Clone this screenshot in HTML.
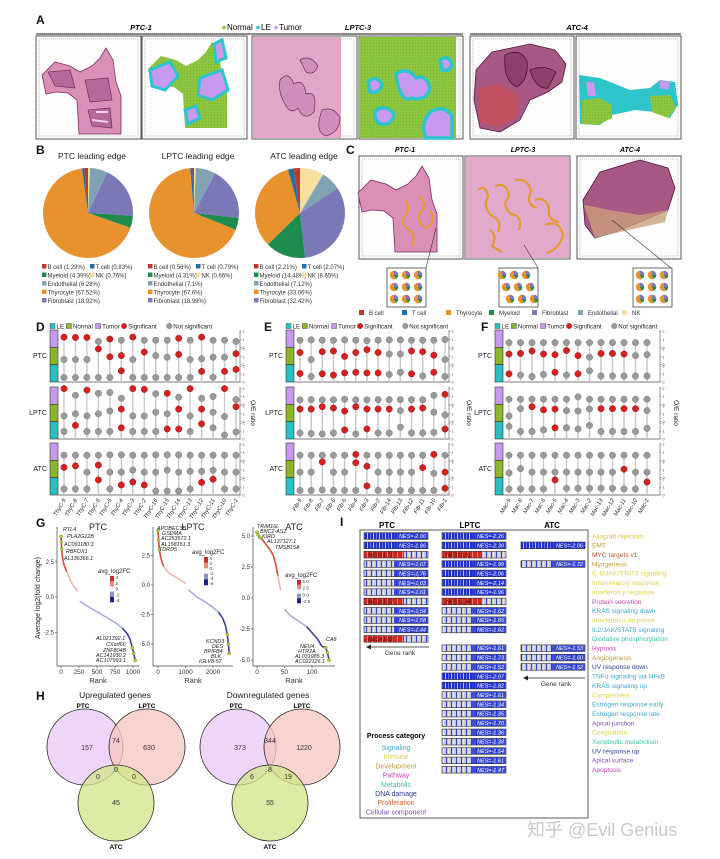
<!DOCTYPE html>
<html><head><meta charset="utf-8"><style>
html,body{margin:0;padding:0;background:#fff;}
svg{display:block;font-family:"Liberation Sans","Noto Sans CJK SC",sans-serif;}
</style></head><body>
<svg id="fig" width="720" height="859" viewBox="0 0 720 859" xmlns="http://www.w3.org/2000/svg">
<defs>
<pattern id="blueStripe" width="6" height="8" patternUnits="userSpaceOnUse"><rect width="6" height="8" fill="#1c2fd1"/><rect x="1" width="0.8" height="8" fill="#e8ecff"/><rect x="4" width="0.6" height="8" fill="#9aa6ff"/></pattern>
<pattern id="greyStripe" width="5" height="8" patternUnits="userSpaceOnUse"><rect width="5" height="8" fill="#c9c9d6"/><rect x="1" width="1" height="8" fill="#3344cc"/><rect x="3.5" width="0.6" height="8" fill="#fff"/></pattern>
<pattern id="redStripe" width="5" height="8" patternUnits="userSpaceOnUse"><rect width="5" height="8" fill="#d22a22"/><rect x="2" width="0.7" height="8" fill="#f2a0a0"/></pattern>
<pattern id="greenDots" width="3" height="3" patternUnits="userSpaceOnUse"><rect width="3" height="3" fill="#8cc63e"/><circle cx="1.5" cy="1.5" r="0.6" fill="#7db22f"/></pattern>
</defs>
</svg>
<script>
// ---------- DATA ----------
const pieCells=['B cell','T cell','Myeloid','NK','Endothelial','Thyrocyte','Fibroblast'];
const pieColors=['#c0392b','#1f6fa8','#1e8c4e','#f7dfa0','#7fa3b0','#e8922e','#7b78b8'];
const piePTC=[1.29,0.83,4.39,0.76,6.28,67.52,18.92];
const pieLPTC=[0.56,0.79,4.31,0.66,7.1,67.6,18.99];
const pieATC=[2.21,2.07,14.48,8.65,7.12,33.06,32.42];
const pieOrder=[3,4,6,2,5,1,0];

const catsD=['ThyC-9','ThyC-8','ThyC-7','ThyC-6','ThyC-5','ThyC-4','ThyC-3','ThyC-2','ThyC-16','ThyC-15','ThyC-14','ThyC-13','ThyC-12','ThyC-11','ThyC-10','ThyC-1'];
const catsE=['Fib-9','Fib-8','Fib-7','Fib-6','Fib-5','Fib-4','Fib-3','Fib-2','Fib-14','Fib-13','Fib-12','Fib-11','Fib-10','Fib-1'];
const catsF=['Mac-9','Mac-8','Mac-7','Mac-6','Mac-5','Mac-4','Mac-3','Mac-2','Mac-13','Mac-12','Mac-11','Mac-10','Mac-1'];
// O/E values per row [Tumor, Normal, LE], and significance
const dPTC_T=[1.3,1.25,1.25,0.75,1.05,0.9,1.3,0.9,0.9,0.9,1.15,0.9,1.3,0.9,0.9,0.75];
const dPTC_Ts=[1,1,1,0,1,0,1,0,0,0,1,0,1,0,0,0];
const dPTC_N=[0.65,0.65,0.65,2.0,1.0,1.15,0.65,1.6,1.15,0.95,1.3,0.65,0.75,0.95,0.95,1.4];
const dPTC_Ns=[0,0,0,1,1,1,0,1,0,0,1,0,0,0,0,1];
const dPTC_L=[0.58,0.58,0.58,0.58,0.58,1.42,0.58,0.58,0.58,0.58,0.58,0.58,1.35,0.6,1.35,1.6];
const dPTC_Ls=[0,0,0,0,0,1,0,0,0,0,0,0,1,0,1,1];
const dLPTC_T=[2.0,1.15,1.8,1.4,1.5,0.77,2.0,1.9,1.35,1.4,0.9,2.0,0.77,1.0,2.0,0.6];
const dLPTC_Ts=[1,0,1,0,0,0,1,1,0,1,0,1,0,0,1,0];
const dLPTC_N=[0.73,1.0,0.73,1.0,1.35,1.6,0.73,0.73,1.2,1.0,1.6,0.73,1.6,1.2,0.65,1.9];
const dLPTC_Ns=[0,0,0,0,0,1,0,0,0,0,1,0,1,0,0,1];
const dLPTC_L=[0.96,1.73,0.96,0.96,0.96,1.42,0.96,0.96,0.96,1.27,1.27,0.96,1.92,1.42,0.5,0.9];
const dLPTC_Ls=[0,1,0,0,0,1,0,0,0,1,1,0,1,0,0,0];
const dATC_T=[0.65,0.65,0.65,0.65,0.7,0.7,0.65,0.65,0.7,0.7,0.7,0.65,0.65,0.65,0.65,0.65];
const dATC_Ts=[0,0,0,0,0,0,0,0,0,0,0,0,0,0,0,0];
const dATC_N=[1.3,1.5,0.7,1.6,0.7,0.7,0.95,0.7,0.7,0.95,0.7,0.8,0.8,0.95,0.7,0.7];
const dATC_Ns=[1,1,0,1,0,0,0,0,0,0,0,0,0,0,0,0];
const dATC_L=[0.77,0.77,0.77,1.92,0.77,1.27,1.65,1.27,0.5,0.5,0.5,0.77,1.6,2.0,0.77,0.77];
const dATC_Ls=[0,0,0,1,0,1,1,1,0,0,0,0,1,1,0,0];

const ePTC_T=[0.9,0.95,0.9,0.9,0.95,0.9,0.85,0.9,0.95,0.95,0.9,0.9,0.9,1.0];
const ePTC_Ts=[0,0,0,0,0,0,0,0,0,0,0,0,0,0];
const ePTC_N=[1.54,0.65,1.65,1.73,1.05,1.54,1.9,1.54,1.35,1.35,1.73,1.65,1.2,0.65];
const ePTC_Ns=[1,0,1,1,1,1,1,1,0,0,1,1,1,0];
const ePTC_L=[1.08,0.7,1.04,0.88,1.15,1.23,1.15,1.15,0.96,1.23,1.04,0.77,1.23,0.7];
const ePTC_Ls=[1,0,1,1,1,1,1,1,0,0,1,0,1,0];
const eLPTC_T=[0.58,0.6,0.58,0.58,0.65,0.58,0.58,0.6,0.6,0.6,0.6,0.58,1.15,1.27];
const eLPTC_Ts=[0,0,0,0,0,0,0,0,0,0,0,0,0,1];
const eLPTC_N=[1.6,1.6,1.9,1.73,1.35,1.9,1.6,1.6,1.6,1.4,1.6,1.73,1.2,0.85];
const eLPTC_Ns=[1,1,1,1,1,1,1,1,1,0,1,1,0,0];
const eLPTC_L=[0.77,0.7,0.65,0.77,1.15,0.65,1.27,0.77,0.77,1.5,0.77,0.77,0.85,1.27];
const eLPTC_Ls=[0,0,0,0,1,0,1,0,0,0,0,0,0,1];
const eATC_T=[0.65,0.65,0.65,0.65,0.65,0.75,0.65,0.65,0.65,0.65,0.65,0.65,0.75,0.65];
const eATC_Ts=[0,0,0,0,0,1,0,0,0,0,0,0,1,0];
const eATC_N=[0.7,0.7,2.0,0.7,0.7,1.9,1.45,0.7,0.7,0.7,0.7,1.27,0.55,0.7];
const eATC_Ns=[0,0,1,0,0,1,1,0,0,0,0,1,0,1];
const eATC_L=[0.58,0.58,0.65,0.58,0.58,0.58,1.15,0.58,0.58,0.58,0.58,0.58,0.58,0.85];
const eATC_Ls=[0,0,0,0,0,0,1,0,0,0,0,0,0,1];

const fPTC_T=[0.6,0.6,0.6,0.6,0.6,0.6,0.6,0.6,0.6,0.6,0.6,0.6,0.6];
const fPTC_Ts=[0,0,0,0,0,0,0,0,0,0,0,0,0];
const fPTC_N=[1.35,1.42,1.73,1.35,1.27,1.8,1.15,0.96,1.42,1.42,1.35,1.15,1.27];
const fPTC_Ns=[1,1,1,1,1,1,1,0,1,1,1,0,0];
const fPTC_L=[1.04,0.88,0.7,0.96,1.23,0.88,1.04,1.42,0.77,0.77,0.77,0.77,0.77];
const fPTC_Ls=[1,0,0,0,1,0,1,0,0,0,0,0,0];
const fLPTC_T=[0.65,0.65,0.65,0.65,0.65,0.65,0.95,0.65,0.65,0.65,0.65,0.65,0.65];
const fLPTC_Ts=[0,0,0,0,0,0,0,0,0,0,0,0,0];
const fLPTC_N=[0.73,1.65,1.9,1.5,1.6,1.4,1.35,1.6,1.65,1.65,1.65,1.65,1.4];
const fLPTC_Ns=[0,0,1,1,1,0,0,0,1,1,1,1,0];
const fLPTC_L=[1.6,0.96,0.96,1.15,1.42,1.42,1.27,1.73,0.96,0.96,0.96,0.96,1.35];
const fLPTC_Ls=[0,0,0,0,1,0,0,0,0,0,0,0,0];
const fATC_T=[0.65,0.65,0.65,0.65,0.65,0.65,0.65,0.65,0.65,0.65,0.65,0.65,0.65];
const fATC_Ts=[0,0,0,0,0,0,0,0,0,0,0,0,0];
const fATC_N=[0.6,1.15,0.7,0.7,0.7,0.7,0.7,0.7,0.7,0.7,1.08,0.7,0.7];
const fATC_Ns=[0,0,0,0,0,0,0,0,0,0,1,0,0];
const fATC_L=[0.77,0.77,0.77,0.77,1.92,0.85,0.85,0.85,0.85,0.85,0.77,0.77,1.65];
const fATC_Ls=[0,0,0,0,1,0,0,0,0,0,0,0,1];

// G: rank / log2FC samples
const gPTCrank=[0,5,10,20,40,80,120,160,200,230,260,350,450,550,650,750,850,920,960,990,1010,1030];
const gPTCfc=[4.3,3.9,3.4,2.8,2.3,1.8,1.3,0.9,0.6,0.4,-0.3,-0.6,-0.9,-1.2,-1.5,-1.8,-2.2,-2.6,-3.0,-3.6,-4.0,-4.5];
const gLPTCrank=[0,20,50,100,200,400,700,900,1000,1100,1400,1700,2000,2200,2350,2450,2520,2560,2590];
const gLPTCfc=[4.6,3.8,3.0,2.3,1.6,1.0,0.6,0.3,0.1,-0.4,-1.0,-1.4,-1.9,-2.3,-2.8,-3.4,-4.2,-5.0,-5.8];
const gATCrank=[0,2,5,10,15,20,25,30,33,35,38,40,43,50,60,70,80,90,100,110,118,125,128,131];
const gATCfc=[5.3,5.1,4.9,4.7,4.4,4.1,3.8,3.4,2.9,2.5,1.8,1.3,0.6,-0.9,-1.4,-1.7,-2.0,-2.3,-2.8,-3.3,-3.9,-4.0,-4.4,-5.0];

// H: venn counts
const vennUp=[157,74,630,0,0,0,45];
const vennDown=[373,344,1220,6,8,19,55];

// I: GSEA
const hallmarks=['Allograft rejection','EMT','MYC targets v1','Myogenesis','IL-6/JAK/STAT3 signaling','Inflammatory response','Interferon γ response','Protein secretion','KRAS signaling down','Interferon α response','IL2/JAK/STAT5 signaling','Oxidative phosphorylation','Hypoxia','Angiogenesis','UV response down','TNFα signaling via NFκB','KRAS signaling up','Complement','Estrogen response early','Estrogen response late','Apical junction','Coagulation','Xenobiotic metabolism','UV response up','Apical surface','Apoptosis'];
const hallColors=['#d9c24a','#c59a3a','#b8502e','#c59a3a','#d9d34a','#d9d34a','#d9d34a','#c445b8','#3aa7c9','#d9d34a','#3aa7c9','#3cc2a8','#c445b8','#c59a3a','#2b3e8f','#3aa7c9','#3aa7c9','#d9d34a','#3aa7c9','#3aa7c9','#7b4fb8','#d9d34a','#3cc2a8','#2b3e8f','#7b4fb8','#c445b8'];
const nesPTC=[-2.00,-1.86,1.71,-1.67,-1.76,-1.63,-1.61,1.67,-1.54,-1.58,-1.44,1.62,null,null,null,null,null,null,null,null,null,null,null,null,null,null];
const nesLPTC=[-2.26,-2.30,1.81,-1.99,-2.06,-2.14,-1.96,1.48,-1.62,-1.65,-1.62,null,-1.61,-1.73,-1.52,-2.07,-1.82,-1.61,-1.34,-1.35,-1.70,-1.36,-1.38,-1.54,-1.61,-1.47];
const nesATC=[null,-2.06,null,-1.72,null,null,null,null,null,null,null,null,-1.53,-1.60,-1.52,null,null,null,null,null,null,null,null,null,null,null];
const procCats=['Signaling','Immune','Development','Pathway','Metabolic','DNA damage','Proliferation','Cellular component'];
const procColors=['#3aa7c9','#d9d34a','#c59a3a','#c445b8','#3cc2a8','#2b3e8f','#d0652e','#7b4fb8'];

// ---------- HELPERS ----------
const NS='http://www.w3.org/2000/svg';
const svg=document.getElementById('fig');
function mk(tag,at,parent){const e=document.createElementNS(NS,tag);for(const k in at)e.setAttribute(k,at[k]);(parent||svg).appendChild(e);return e;}
function tx(x,y,s,at,parent){const e=mk('text',Object.assign({x:x,y:y},at||{}),parent);e.textContent=s;return e;}
function grp(name){const g=mk('g',{});return g;}
let el;

// panel letters
[['A',36,24],['B',36,154],['C',346,154],['D',36,331],['E',264,331],['F',481,331],['G',36,527],['H',36,700],['I',340,526]].forEach(function(p){
  el=tx(p[1],p[2],p[0],{'font-size':12,'font-weight':'bold',fill:'#111'});
  
  
});

// ---------- PANEL A ----------
const gA=grp('panel-a-spatial');
function boxFrame(x,y,w,h,g,name){
  el=mk('rect',{x:x,y:y,width:w,height:h,fill:'#fdfdfd',stroke:'#555','stroke-width':1},g);
  
  
  mk('rect',{x:x+3,y:y+3,width:w-6,height:h-6,fill:'none',stroke:'#ddd','stroke-width':2,'stroke-dasharray':'1 1'},g);
}
function ptcShape(dx,dy){return 'M'+(42+dx)+','+(75+dy)+' L'+(55+dx)+','+(62+dy)+' L'+(70+dx)+','+(66+dy)+' L'+(80+dx)+','+(72+dy)+' L'+(92+dx)+','+(66+dy)+' L'+(100+dx)+','+(58+dy)+' L'+(106+dx)+','+(48+dy)+' L'+(113+dx)+','+(60+dy)+' L'+(116+dx)+','+(82+dy)+' L'+(121+dx)+','+(96+dy)+' L'+(121+dx)+','+(134+dy)+' L'+(79+dx)+','+(134+dy)+' L'+(77+dx)+','+(100+dy)+' L'+(68+dx)+','+(93+dy)+' L'+(56+dx)+','+(92+dy)+' L'+(46+dx)+','+(94+dy)+' Z';}
// titles
[['PTC-1',141],['LPTC-3',358],['ATC-4',577]].forEach(function(t){
  el=tx(t[1],30,t[0],{'font-size':7.5,'font-weight':'bold','font-style':'italic','text-anchor':'middle'},gA);
  
  
});
mk('line',{x1:36,y1:34,x2:463,y2:34,stroke:'#666','stroke-width':1.5},gA);
mk('line',{x1:470,y1:34,x2:681,y2:34,stroke:'#666','stroke-width':1.5},gA);
[['Normal','#8cc63e',224],['LE','#2ec4cc',258],['Tumor','#c79af0',276]].forEach(function(l){
  el=mk('circle',{cx:l[2],cy:27.5,r:1.8,fill:l[1]},gA);
  
  
  el=tx(l[2]+3,30,l[0],{'font-size':8},gA);
  
  
});
// PTC-1 HE
boxFrame(36,36,105,103,gA,'ptc1-he-image');
el=mk('path',{d:ptcShape(0,0),fill:'#d98fb8',stroke:'#7c2f60','stroke-width':0.8},gA);

mk('path',{d:'M48,72 L70,70 L75,88 L55,86 Z M85,80 L108,78 L112,100 L90,102 Z M88,110 L110,108 L112,128 L92,126 Z',fill:'#b5689a',stroke:'#5e2048','stroke-width':0.6},gA);
mk('path',{d:'M96,112 l12,0 M92,120 l16,2',stroke:'#f2d6e6','stroke-width':2},gA);
// PTC-1 spots
boxFrame(142,36,105,103,gA,'ptc1-spot-map');
el=mk('path',{d:ptcShape(106,-6),fill:'url(#greenDots)'},gA);

mk('path',{d:'M150,70 L170,62 L178,76 L165,90 L152,86 Z M200,78 L222,70 L228,90 L212,100 L198,95 Z M214,44 L222,40 L226,58 L216,62 Z M185,110 L196,106 L200,118 L188,124 Z',fill:'#c79af0',stroke:'#2ec4cc','stroke-width':3},gA);
// LPTC-3 HE
boxFrame(252,36,105,103,gA,'lptc3-he-image');
el=mk('rect',{x:253,y:37,width:88,height:101,fill:'#e1a7c9'},gA);

mk('path',{d:'M280,80 q8,-10 14,4 q10,-6 12,10 q12,-4 8,18 q-10,10 -16,-4 q-8,8 -14,-6 q-6,-10 -4,-22 Z M300,60 q10,-6 18,6 q-4,10 -12,6 Z M322,110 q12,-4 18,8 q0,14 -14,18 q-12,-4 -4,-26 Z',fill:'#cf8fbb',stroke:'#6b2b58','stroke-width':0.7},gA);
// LPTC-3 spots
boxFrame(359,36,104,103,gA,'lptc3-spot-map');
el=mk('rect',{x:360,y:37,width:96,height:101,fill:'url(#greenDots)'},gA);

mk('path',{d:'M368,82 q8,-8 14,2 q-2,10 -12,8 Z M376,110 q10,-6 18,4 q-2,12 -14,10 q-8,-6 -4,-14 Z M396,74 q12,-8 20,4 q10,-4 14,10 q-4,14 -18,10 q-12,6 -16,-24 Z M430,112 q14,-8 22,4 l0,22 l-26,0 q-6,-14 4,-26 Z M440,60 q8,-6 12,4 q-2,8 -10,6 Z',fill:'#c79af0',stroke:'#2ec4cc','stroke-width':3.5},gA);
// ATC-4 HE
boxFrame(470,36,104,103,gA,'atc4-he-image');
el=mk('path',{d:'M476,70 L492,52 L530,44 L555,50 L566,64 L562,82 L548,92 L530,100 L520,120 L500,132 L480,128 L474,100 Z',fill:'#a85884',stroke:'#4f1838','stroke-width':0.8},gA);

mk('path',{d:'M478,88 L500,84 L520,96 L516,118 L498,128 L480,122 Z',fill:'#c8505a',opacity:0.8},gA);
mk('path',{d:'M505,55 q15,-8 22,6 q2,18 -10,26 q-14,-6 -12,-32 Z M530,70 q14,-6 26,2 l-8,16 q-12,2 -18,-18 Z',fill:'#8e3f6c',stroke:'#3a0d28','stroke-width':0.7},gA);
// ATC-4 spots
boxFrame(576,36,105,103,gA,'atc4-spot-map');
el=mk('path',{d:'M579,75 L600,78 L630,90 L650,88 L660,80 L675,82 L678,105 L670,118 L655,112 L635,110 L612,115 L600,125 L580,124 Z',fill:'#2ec4cc'},gA);

mk('path',{d:'M582,100 L600,98 L612,105 L612,118 L598,125 L582,124 Z M650,96 L670,95 L676,108 L668,118 L652,112 Z',fill:'url(#greenDots)'},gA);
mk('path',{d:'M586,82 l8,0 l2,14 l-8,0 Z M660,80 l10,2 l-2,8 l-8,-2 Z',fill:'#c79af0'},gA);

// ---------- PANEL B ----------
const gB=grp('panel-b-pies');
const pies=[['PTC leading edge',piePTC,88,'ptc'],['LPTC leading edge',pieLPTC,194,'lptc'],['ATC leading edge',pieATC,300,'atc']];
pies.forEach(function(p){
  const cx=p[2],cy=213,r=45;
  el=tx(cx+4,159,p[0],{'font-size':8.5,'text-anchor':'middle',fill:'#222'},gB);
  
  const vals=p[1];const tot=vals.reduce(function(a,b){return a+b;},0);
  let a0=-Math.PI/2;
  pieOrder.forEach(function(i){
    const a1=a0+vals[i]/tot*2*Math.PI;
    const large=(a1-a0)>Math.PI?1:0;
    const d='M'+cx+','+cy+' L'+(cx+r*Math.cos(a0))+','+(cy+r*Math.sin(a0))+' A'+r+','+r+' 0 '+large+' 1 '+(cx+r*Math.cos(a1))+','+(cy+r*Math.sin(a1))+' Z';
    el=mk('path',{d:d,fill:pieColors[i]},gB);
    
    
    a0=a1;
  });
  // legend
  const lx=cx-46;
  const rowsL=[[[0,0],[1,48]],[[2,0],[3,48]],[[4,0]],[[5,0]],[[6,0]]];
  rowsL.forEach(function(row,ri){
    row.forEach(function(it){
      const i=it[0],x=lx+it[1],y=269+ri*8.5;
      el=mk('rect',{x:x,y:y-5,width:4.5,height:4.5,fill:pieColors[i]},gB);
      
      el=tx(x+5.5,y,pieCells[i]+' ('+vals[i]+'%)',{'font-size':6,fill:'#333'},gB);
      
    });
  });
});

// ---------- PANEL C ----------
const gC=grp('panel-c-deconvolution');
[['PTC-1',405],['LPTC-3',523],['ATC-4',630]].forEach(function(t){
  el=tx(t[1],152,t[0],{'font-size':7,'font-weight':'bold','font-style':'italic','text-anchor':'middle'},gC);
  
});
boxFrame(359,156,104,103,gC,'c-ptc1-image');
el=mk('path',{d:ptcShape(320,124).replace(/M([\d.]+),([\d.]+)/,'M$1,$2'),fill:'#d98fb8',stroke:'#7c2f60','stroke-width':0.8,transform:'translate(-4,-6) scale(1)'},gC);

mk('path',{d:'M405,200 q6,8 0,16 q-6,8 4,14 q8,6 2,16 M418,196 q10,6 4,14 q-8,10 4,18 M430,210 q6,10 -2,18',fill:'none',stroke:'#e39a30','stroke-width':2},gC);
boxFrame(465,156,105,103,gC,'c-lptc3-image');
el=mk('rect',{x:466,y:157,width:103,height:101,fill:'#e3a9cb'},gC);

mk('path',{d:'M478,190 q8,-6 10,6 q-6,12 4,20 q10,4 6,16 M495,186 q12,-4 14,10 q-8,10 2,18 q12,2 8,16 M515,180 q14,-2 16,12 q-6,12 6,16 M535,200 q10,-4 14,8 q-2,12 10,14 M545,225 q14,-6 18,10 q-4,14 -16,18 M490,230 q8,6 2,16 l10,6',fill:'none',stroke:'#e39a30','stroke-width':2.2},gC);
boxFrame(577,156,104,103,gC,'c-atc4-image');
el=mk('path',{d:'M583,200 L600,172 L640,160 L668,168 L675,188 L668,210 L640,222 L615,232 L595,238 L585,225 Z',fill:'#a85884',stroke:'#4f1838','stroke-width':0.8},gC);

mk('path',{d:'M584,205 L610,210 L640,215 L668,210 L665,222 L620,232 L595,238 Z',fill:'#c9a07c',opacity:0.8},gC);
// insets
[[387,268,'ptc'],[499,268,'lptc'],[633,268,'atc']].forEach(function(b,bi){
  el=mk('rect',{x:b[0],y:b[1],width:39,height:39,fill:'#fff',stroke:'#444','stroke-width':0.8},gC);
  
  for(let k=0;k<9;k++){
    const cx=b[0]+7+(k%3)*12+(bi===1?(Math.floor(k/3)-1)*4:0), cy=b[1]+7+Math.floor(k/3)*12;
    mk('circle',{cx:cx,cy:cy,r:4.2,fill:'#e8922e'},gC);
    mk('path',{d:'M'+cx+','+cy+' L'+cx+','+(cy-4.2)+' A4.2,4.2 0 0 1 '+(cx+4.2)+','+cy+' Z',fill:'#7b78b8'},gC);
    mk('path',{d:'M'+cx+','+cy+' L'+(cx+4.2)+','+cy+' A4.2,4.2 0 0 1 '+(cx+2)+','+(cy+3.7)+' Z',fill:'#1e8c4e'},gC);
  }
});
mk('line',{x1:426,y1:268,x2:436,y2:228,stroke:'#333','stroke-width':0.6},gC);
mk('line',{x1:538,y1:268,x2:524,y2:245,stroke:'#333','stroke-width':0.6},gC);
mk('line',{x1:671,y1:268,x2:612,y2:220,stroke:'#333','stroke-width':0.6},gC);
const cLeg=[['B cell',0,359],['T cell',1,402],['Thyrocyte',5,446],['Myeloid',2,489],['Fibroblast',6,532],['Endothelial',4,578],['NK',3,622]];
cLeg.forEach(function(l){
  el=mk('rect',{x:l[2],y:310,width:5,height:5,fill:pieColors[l[1]]},gC);
  
  el=tx(l[2]+10,315,l[0],{'font-size':6,fill:'#333'},gC);
  
});

// ---------- PANELS D/E/F (lollipops) ----------
const rowTops=[330,387,443], rowH=52, bandH=rowH/3;
const bandCols=['#c79af0','#8db52a','#2bbfc4'];
function lolli(name,cats,barX,x0,x1,axisX,oeX,rows){
  const g=grp('panel-'+name+'-lollipop');
  const n=cats.length, step=(x1-x0)/(n-1);
  function xs(i){return x0+i*step;}
  // legend
  let lx=barX;
  [['LE','#2bbfc4','r'],['Normal','#8db52a','r'],['Tumor','#c79af0','r'],['Significant','#d42020','c'],['Not significant','#999','c']].forEach(function(l){
    if(l[2]==='r'){el=mk('rect',{x:lx,y:323.5,width:5,height:5,fill:l[1],stroke:'#333','stroke-width':0.4},g);}
    else{el=mk('circle',{cx:lx+2.5,cy:326,r:2.8,fill:l[1],stroke:'#555','stroke-width':0.3},g);}
    
    
    el=tx(lx+6.5,328.5,l[0],{'font-size':6.2,fill:'#222'},g);
    
    
    lx+=l[0].length*3.2+10;
  });
  ['PTC','LPTC','ATC'].forEach(function(rn,ri){
    const top=rowTops[ri];
    el=tx(barX-3,top+rowH/2+2,rn,{'font-size':7,'text-anchor':'end',fill:'#222'},g);
    
    for(let b=0;b<3;b++){
      el=mk('rect',{x:barX,y:top+b*bandH,width:8,height:bandH,fill:bandCols[b],stroke:'#333','stroke-width':0.6},g);
      
    }
    el=mk('line',{x1:barX+8,y1:top+rowH,x2:axisX,y2:top+rowH,stroke:'#777','stroke-width':1},g);
    
    el=mk('line',{x1:axisX,y1:top,x2:axisX,y2:top+rowH,stroke:'#555','stroke-width':0.6},g);
    
    for(let b=0;b<3;b++){
      [0,1,2].forEach(function(t){
        const y=top+(b+1)*bandH-t/2.2*bandH;
        mk('line',{x1:axisX,y1:y,x2:axisX+1.5,y2:y,stroke:'#555','stroke-width':0.4},g);
        el=tx(axisX+2.5,y+1.5,String(t),{'font-size':3.6,fill:'#444'},g);
        
      });
    }
    const grpVals=rows[ri];
    for(let b=0;b<3;b++){
      const vals=grpVals[b*2], sig=grpVals[b*2+1];
      vals.forEach(function(v,i){
        const base=top+(b+1)*bandH, y=base-v/2.2*bandH;
        el=mk('line',{x1:xs(i),y1:y,x2:xs(i),y2:top+rowH,stroke:'#c8c8c8','stroke-width':1.3},g);
        
      });
    }
    for(let b=0;b<3;b++){
      const vals=grpVals[b*2], sig=grpVals[b*2+1];
      vals.forEach(function(v,i){
        const base=top+(b+1)*bandH, y=base-v/2.2*bandH;
        el=mk('circle',{cx:xs(i),cy:y,r:3.2,fill:sig[i]?'#d42020':'#9a9a9a',stroke:sig[i]?'#8a1010':'#666','stroke-width':0.4},g);
        
        
      });
    }
  });
  el=tx(oeX,rowTops[1]+rowH/2,'O/E ratio',{'font-size':6.5,'text-anchor':'middle',transform:'rotate(90 '+oeX+' '+(rowTops[1]+rowH/2)+')',fill:'#222'},g);
  
  cats.forEach(function(c,i){
    el=tx(xs(i)+2,500,c,{'font-size':5.8,'font-style':'italic','text-anchor':'end',transform:'rotate(-60 '+(xs(i)+2)+' 500)',fill:'#222'},g);
    
  });
}
lolli('d',catsD,50,64,236,240,251,[[dPTC_T,dPTC_Ts,dPTC_N,dPTC_Ns,dPTC_L,dPTC_Ls],[dLPTC_T,dLPTC_Ts,dLPTC_N,dLPTC_Ns,dLPTC_L,dLPTC_Ls],[dATC_T,dATC_Ts,dATC_N,dATC_Ns,dATC_L,dATC_Ls]]);
lolli('e',catsE,286,300,445,449,467,[[ePTC_T,ePTC_Ts,ePTC_N,ePTC_Ns,ePTC_L,ePTC_Ls],[eLPTC_T,eLPTC_Ts,eLPTC_N,eLPTC_Ns,eLPTC_L,eLPTC_Ls],[eATC_T,eATC_Ts,eATC_N,eATC_Ns,eATC_L,eATC_Ls]]);
lolli('f',catsF,495,509,647,660,674,[[fPTC_T,fPTC_Ts,fPTC_N,fPTC_Ns,fPTC_L,fPTC_Ls],[fLPTC_T,fLPTC_Ts,fLPTC_N,fLPTC_Ns,fLPTC_L,fLPTC_Ls],[fATC_T,fATC_Ts,fATC_N,fATC_Ns,fATC_L,fATC_Ls]]);

// ---------- PANEL G ----------
function rankPlot(o){
  const g=grp('panel-g-'+o.id);
  const X=function(v){return o.x0+(v-o.xmin)/(o.xmax-o.xmin)*(o.x1-o.x0);};
  const Y=function(v){return o.yZero-v*o.ppu;};
  el=tx((o.ax0+o.ax1)/2,530,o.title,{'font-size':9,'text-anchor':'middle',fill:'#222'},g);
  
  el=mk('path',{d:'M'+o.ax0+',527 L'+o.ax0+',666 L'+o.ax1+',666',fill:'none',stroke:'#444','stroke-width':0.7},g);
  
  o.yt.forEach(function(t){
    mk('line',{x1:o.ax0-2,y1:Y(t),x2:o.ax0,y2:Y(t),stroke:'#444','stroke-width':0.6},g);
    el=tx(o.ax0-3,Y(t)+2,t.toFixed(1),{'font-size':6,'text-anchor':'end',fill:'#333'},g);
    
  });
  o.xt.forEach(function(t){
    mk('line',{x1:X(t),y1:666,x2:X(t),y2:668,stroke:'#444','stroke-width':0.6},g);
    el=tx(X(t),674,String(t),{'font-size':6.5,'text-anchor':'middle',fill:'#333'},g);
    
  });
  el=tx((o.ax0+o.ax1)/2,683,'Rank',{'font-size':7.5,'text-anchor':'middle',fill:'#333'},g);
  
  // line segments
  for(let i=0;i<o.r.length-1;i++){
    const v=o.f[i], pos=v>=0;
    const c=pos?(v>2?'#d8493c':'#f0b5ab'):(v<-2?'#3a3f9a':'#a8aed4');
    el=mk('line',{x1:X(o.r[i]),y1:Y(o.f[i]),x2:X(o.r[i+1]),y2:Y(o.f[i+1]),stroke:c,'stroke-width':1.6,opacity:(pos&&o.f[i+1]<0)?0:1},g);
    
  }
  o.r.forEach(function(r,i){
    if(i<3||i>=o.r.length-3){
      el=mk('circle',{cx:X(r),cy:Y(o.f[i]),r:1.6,fill:'#a7c93a',stroke:'#667a20','stroke-width':0.3},g);
      
    }
  });
  o.genes.forEach(function(gn){
    el=tx(gn[1],gn[2],gn[0],{'font-size':5.4,'font-style':'italic',fill:'#222'},g);
    
  });
  // colorbar
  el=tx(o.cb[0]-12,o.cb[1]-3,'avg_log2FC',{'font-size':6,fill:'#222'},g);
  
  const h=o.cb[2];
  ['#c0302a','#e88a7c','#f4f4f4','#8f93c8','#1d2380'].forEach(function(c,i){
    el=mk('rect',{x:o.cb[0],y:o.cb[1]+i*h/5,width:4,height:h/5+0.3,fill:c},g);
    
  });
  o.cbl.forEach(function(l,i){
    el=tx(o.cb[0]+5.5,o.cb[1]+3+i*(h-3)/(o.cbl.length-1),l,{'font-size':4.5,fill:'#333'},g);
    
  });
}
el=tx(40,598,'Average log2(fold change)',{'font-size':7,'text-anchor':'middle',transform:'rotate(-90 40 598)',fill:'#222'});

rankPlot({id:'ptc',title:'PTC',ax0:57,ax1:139,x0:61,x1:133,xmin:0,xmax:1000,yZero:597,ppu:14.1,yt:[2.5,0,-2.5],xt:[0,250,500,750,1000],r:gPTCrank,f:gPTCfc,
  genes:[['RTL4',63,531],['PLA2G12B',67,538],['AC091180.3',64,546],['RBFOX1',66,553],['AL136366.1',64,560],['AL021392.1',96,640],['CXorf66',106,646],['ZNF804B',103,652],['AC141930.2',96,657],['AC107993.1',96,662]],cb:[110,576,26],cbl:['4','2','0','-2','-4']});
rankPlot({id:'lptc',title:'LPTC',ax0:153,ax1:233,x0:158,x1:213,xmin:0,xmax:2000,yZero:585,ppu:11.8,yt:[2.5,0,-2.5,-5],xt:[0,1000,2000],r:gLPTCrank,f:gLPTCfc,
  genes:[['APOBEC3B',157,530],['GSDMA',162,535],['AC253572.1',161,540],['AL158151.3',161,546],['TDRD5',159,551],['KCND3',206,643],['DES',212,648],['BPIFB4',204,653],['BLK',211,658],['IGLV8-57',199,663]],cb:[204,557,28],cbl:['4','2','0','-2','-4','-6']});
rankPlot({id:'atc',title:'ATC',ax0:253,ax1:335,x0:257,x1:312,xmin:0,xmax:100,yZero:598,ppu:12.4,yt:[5,2.5,0,-2.5,-5],xt:[0,50,100],r:gATCrank,f:gATCfc,
  genes:[['TRIM16L',257,528],['BNC2-AS1',260,533],['KIRD',262,538],['AL137127.1',267,543],['TMSB15A',275,549],['CA8',326,641],['NEU4',300,648],['HTR2A',298,653],['AL031985.3',295,658],['AC022126.1',295,663]],cb:[297,580,23],cbl:['5.0','2.5','0.0','-2.5']});

// ---------- PANEL H ----------
function venn(id,title,tx0,cx1,cx2,cxA,vals){
  const g=grp('panel-h-venn-'+id);
  el=tx(tx0,698,title,{'font-size':8.5,'text-anchor':'middle',fill:'#222'},g);
  
  const cy=747,cyA=803,r=38;
  [[cx1,cy,'#e9c8f7','ptc'],[cx2,cy,'#f7c4bd','lptc'],[cxA,cyA,'#d2e585','atc']].forEach(function(c){
    el=mk('circle',{cx:c[0],cy:c[1],r:r,fill:c[2],'fill-opacity':0.75,stroke:'#222','stroke-width':0.8},g);
    
  });
  el=tx(cx1-2,708,'PTC',{'font-size':6.5,'font-weight':'bold','text-anchor':'middle'},g);
  
  el=tx(cx2,708,'LPTC',{'font-size':6.5,'font-weight':'bold','text-anchor':'middle'},g);
  
  el=tx(cxA,849,'ATC',{'font-size':6.5,'font-weight':'bold','text-anchor':'middle'},g);
  
  const pos=[[cx1+2,750],[(cx1+cx2)/2,743],[cx2+2,750],[cxA-18,779],[cxA,772],[cxA+18,779],[cxA,805]];
  vals.forEach(function(v,i){
    el=tx(pos[i][0],pos[i][1],String(v),{'font-size':7,'text-anchor':'middle',fill:'#333'},g);
    
  });
}
venn('up','Upregulated genes',115,85,147,116,vennUp);
venn('down','Downregulated genes',268,238,302,270,vennDown);

// ---------- PANEL I ----------
const gI=grp('panel-i-gsea');
[['PTC',387],['LPTC',470],['ATC',552]].forEach(function(h){
  el=tx(h[1],528,h[0],{'font-size':8,'font-weight':'bold','text-anchor':'middle'},gI);
  
});
el=mk('rect',{x:360,y:530,width:228,height:288,fill:'none',stroke:'#333','stroke-width':0.8},gI);

const rowY=function(i){return 536+i*9.35;};
[[nesPTC,364,'ptc'],[nesLPTC,442,'lptc'],[nesATC,521,'atc']].forEach(function(col){
  col[0].forEach(function(v,i){
    if(v===null)return;
    const y=rowY(i)-3.3;
    const fill=v>0?'url(#redStripe)':(Math.abs(v)>1.8?'url(#blueStripe)':'url(#greyStripe)');
    el=mk('rect',{x:col[1],y:y,width:64,height:6.6,fill:fill,stroke:'#222','stroke-width':0.6},gI);
    
    if(v>0){ mk('rect',{x:col[1]+40,y:y+0.3,width:23.7,height:6,fill:'url(#greyStripe)'},gI); }
    else{ mk('rect',{x:col[1]+30,y:y+0.3,width:33.7,height:6,fill:'#2236d8',opacity:0.85},gI); }
    el=tx(v>0?col[1]+4:col[1]+62,y+5.3,'NES='+v.toFixed(2),{'font-size':5.5,'font-style':'italic','text-anchor':v>0?'start':'end',fill:v>0?'#3a0000':'#fff'},gI);
    
  });
});
hallmarks.forEach(function(h,i){
  el=tx(592,rowY(i)+2.3,h,{'font-size':6.6,fill:hallColors[i]},gI);
  
});
[[366,429,647,400,'ptc'],[523,585,678,556,'atc']].forEach(function(a){
  el=mk('line',{x1:a[0]+4,y1:a[2],x2:a[1],y2:a[2],stroke:'#222','stroke-width':0.8},gI);
  
  mk('path',{d:'M'+a[0]+','+a[2]+' l5,-2.5 l0,5 Z',fill:'#222'},gI);
  el=tx(a[3],a[2]+8,'Gene rank',{'font-size':6.5,'text-anchor':'middle',fill:'#333'},gI);
  
});
el=tx(396,738,'Process category',{'font-size':7,'font-weight':'bold','text-anchor':'middle'},gI);

procCats.forEach(function(p,i){
  el=tx(396,750+i*9.2,p,{'font-size':7,'text-anchor':'middle',fill:procColors[i]},gI);
  
});

// watermark
el=tx(527,836,'知乎 @Evil Genius',{'font-size':18,fill:'#c9c9c9','font-family':'"Liberation Sans","Noto Sans CJK SC",sans-serif'});

</script>
</body></html>
